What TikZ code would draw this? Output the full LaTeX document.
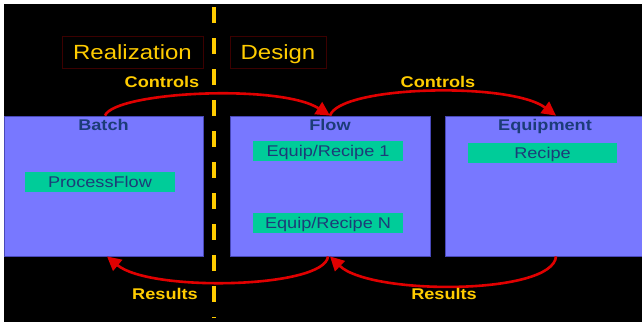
\documentclass[tikz,border=0pt]{standalone}
\usepackage{fontspec}
\usetikzlibrary{arrows.meta,calc}
\newfontfamily\widesans[FakeStretch=1.17]{Liberation Sans}
\definecolor{panelblue}{HTML}{7878FF}
\definecolor{paneledge}{HTML}{4848B8}
\definecolor{inkblue}{HTML}{1C3C78}
\definecolor{mint}{HTML}{00CC99}
\definecolor{gold}{HTML}{FFCC00}
\definecolor{arrowred}{HTML}{E00000}
\definecolor{darkred}{HTML}{3C0000}
\tikzset{
  capcentred/.style={text height=11.2pt, text depth=0pt},
  panel/.style={draw=paneledge, line width=0.8pt, fill=panelblue, minimum height=140pt, inner sep=0pt},
  paneltitle/.style={capcentred, inner sep=0pt, text=inkblue, font=\widesans\bfseries\fontsize{15.5}{18}\selectfont},
  item/.style={capcentred, fill=mint, minimum width=150pt, minimum height=20pt, inner sep=0pt, text=inkblue, font=\widesans\fontsize{15.5}{18}\selectfont},
  phase/.style={text height=14.7pt, text depth=0pt, draw=darkred, line width=0.6pt, minimum height=32pt, inner sep=0pt, text=gold, font=\widesans\fontsize{20.5}{24}\selectfont},
  flowlabel/.style={capcentred, inner sep=0pt, text=gold, font=\widesans\bfseries\fontsize{15.5}{18}\selectfont},
  link/.style={draw=arrowred, line width=2.6pt, -{Triangle[length=14pt,width=14pt]}},
  divider/.style={draw=gold, line width=4.5pt, dash pattern=on 16pt off 15pt}
}
\begin{document}
\begin{tikzpicture}[x=1pt, y=-1pt]
  % page and black canvas
  \fill[white] (0,0) rectangle (642,322);
  \fill[black] (4,4) rectangle (642,322);
  \useasboundingbox (0,0) rectangle (642,322);

  % realization / design divider
  \draw[divider] (214,7) -- (214,318);

  % phase headings
  \node[phase, minimum width=141pt] (realization) at (132.5,52.5) {Realization};
  \node[phase, minimum width=96pt] (design) at (278,52.5) {Design};

  % panels
  \node[panel, minimum width=199pt] (batch) at (103.5,186) {};
  \node[panel, minimum width=200pt] (flow) at (330,186) {};
  \node[panel, minimum width=197pt] (equip) at (543.5,186) {};

  \node[paneltitle] (batchT) at ([yshift=-9pt]batch.north) {Batch};
  \node[paneltitle] (flowT) at ([yshift=-9pt]flow.north) {Flow};
  \node[paneltitle] (equipT) at ([yshift=-9pt,xshift=1.5pt]equip.north) {Equipment};

  % contents
  \node[item] (pflow) at (100,181.5) {ProcessFlow};
  \node[item] (rec1) at (328,151) {Equip/Recipe 1};
  \node[item] (recN) at (328,223) {Equip/Recipe N};
  \node[item, minimum width=149pt] (rec) at (542.5,153) {Recipe};

  % control arrows
  \coordinate (bTop) at ([xshift=1.5pt]batch.north);
  \coordinate (eTop) at ([xshift=12.5pt]equip.north);
  \draw[link] (bTop) .. controls ($(bTop)+(10,-24)$) and ($(flow.north)+(-50,-32)$) .. (flow.north);
  \draw[link] (flow.north) .. controls ($(flow.north)+(10,-30)$) and ($(eTop)+(-46,-34)$) .. (eTop);
  \node[flowlabel] (ctrl1) at (162,81.5) {Controls};
  \node[flowlabel] (ctrl2) at (438,81.5) {Controls};

  % result arrows
  \coordinate (bBot) at ([xshift=3.5pt]batch.south);
  \coordinate (eBot) at ([xshift=12.5pt]equip.south);
  \draw[link] ([xshift=-2pt]flow.south) .. controls ($(flow.south)+(-5,32)$) and ($(bBot)+(43,36)$) .. (bBot);
  \draw[link] (eBot) .. controls ($(eBot)+(-3,39)$) and ($(flow.south)+(40,39)$) .. (flow.south);
  \node[flowlabel] (res1) at (165,293.5) {Results};
  \node[flowlabel] (res2) at (444,293.5) {Results};
\end{tikzpicture}
\end{document}
